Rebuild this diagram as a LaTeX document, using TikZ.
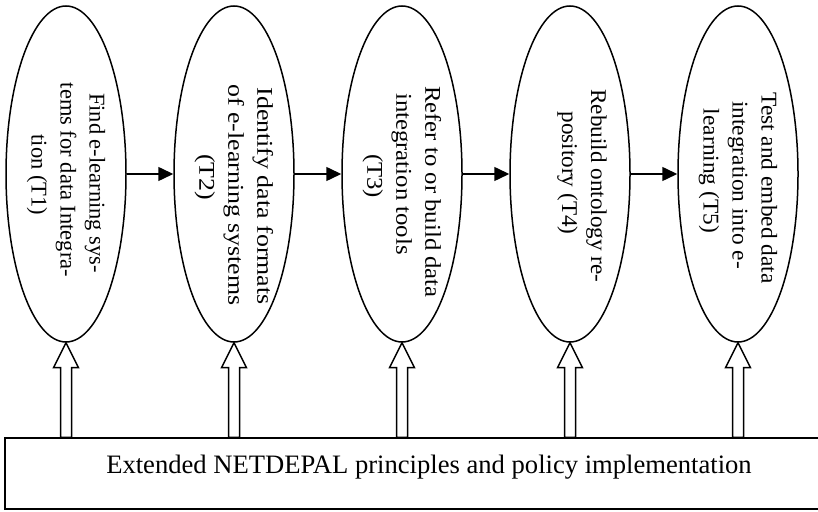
\documentclass[tikz,border=0pt]{standalone}
\usepackage{fontspec}
\setmainfont{Liberation Serif}
\usetikzlibrary{arrows.meta,shapes.geometric,calc}

% leading space that pushes a centred line further along its reading direction
\newcommand\lead[1]{\hspace*{#1}}

\tikzset{
  % the negative inner sep keeps every ellipse at its fixed size, however long its text
  task/.style={ellipse, draw, line width=1.5pt, rotate=-90,
    minimum width=336pt, minimum height=120pt, inner sep=-30pt,
    align=center},
  taskfont/.style={font={\fontsize{22.5}{29}\selectfont\addfontfeature{FakeStretch=#1}}},
  flow/.style={line width=1.5pt, -{Triangle[length=15pt,width=14pt]}},
  support/.style={draw, fill=white, line width=1.5pt, line join=miter},
  base/.style={draw, line width=1.5pt, minimum width=848pt, minimum height=71pt,
    text height=0pt, text depth=0pt, inner sep=0pt,
    font=\fontsize{26.6}{32}\selectfont}
}

\begin{document}
\begin{tikzpicture}[x=1pt,y=1pt]
  \useasboundingbox (0,0) rectangle (818,511);

  % task ellipses (rotated, so north points right and east points down)
  \node[task, taskfont=1.0] (t1) at (66,337)
    {\lead{18pt}Find e-learning sys-\\\lead{12pt}tems for data Integra-\\\lead{2pt}tion (T1)};
  \node[task, taskfont=1.15] (t2) at (234,337)
    {\lead{44pt}Identify data formats\\\lead{42pt}of e-learning systems\\\lead{6pt}(T2)};
  \node[task, taskfont=1.1] (t3) at (402,337)
    {\lead{36pt}Refer to or build data\\integration tools\\\lead{4pt}(T3)};
  \node[task, taskfont=1.03] (t4) at (570,337)
    {\lead{24pt}Rebuild ontology re-\\\lead{-2pt}pository (T4)\\\mbox{}};
  \node[task, taskfont=1.04] (t5) at (738,337)
    {\lead{28pt}Test and embed data\\\lead{22pt}integration into e-\\\lead{-6pt}learning (T5)};

  % sequence of tasks
  \draw[flow] (t1.north) -- (t2.south);
  \draw[flow] (t2.north) -- (t3.south);
  \draw[flow] (t3.north) -- (t4.south);
  \draw[flow] (t4.north) -- (t5.south);

  % supporting principles
  \node[base] (base) at (429,37.5) {Extended NETDEPAL principles and policy implementation};

  % hollow block arrows from the base up to every task
  \foreach \i in {1,...,5}{
    \coordinate (foot\i) at (t\i.east |- base.north);
    \draw[support] (t\i.east) -- ++(12.5,-25) -- ++(-7,0)
      -- ($(foot\i)+(5.5,0)$) -- ($(foot\i)+(-5.5,0)$)
      -- ($(t\i.east)+(-5.5,-25)$) -- ++(-7,0) -- cycle;
  }
\end{tikzpicture}
\end{document}
